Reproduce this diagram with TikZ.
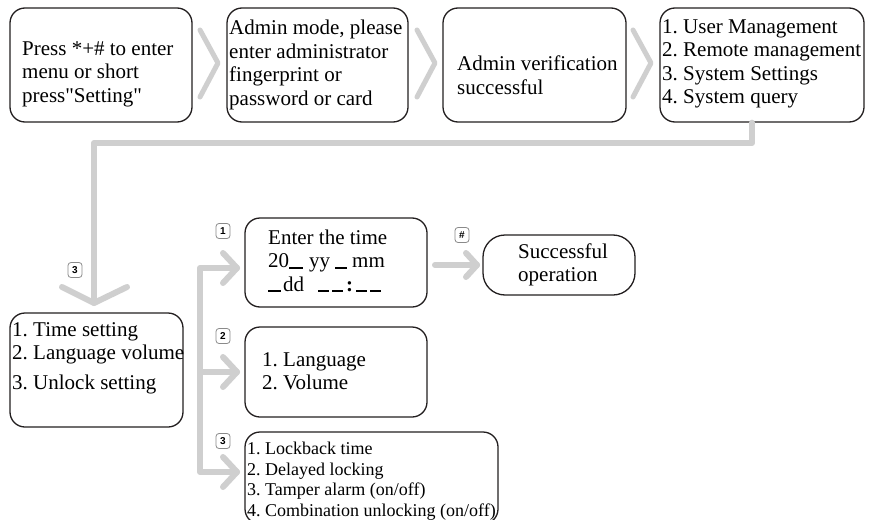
\documentclass[tikz,border=0pt]{standalone}
\usepackage{fontspec}
\setmainfont{Liberation Serif}[Ligatures=TeXOff]
\newfontfamily\lblfont{Liberation Sans}
\newcommand\ubar[1]{\rule[-0.8pt]{#1pt}{1.9pt}}
\definecolor{boxline}{HTML}{231F20}
\definecolor{connc}{HTML}{CFCFCF}
\definecolor{lblline}{HTML}{8A8A8A}
\frenchspacing
\begin{document}
\begin{tikzpicture}[x=1pt,y=-1pt,
  box/.style={draw=boxline,line width=1.3pt,rounded corners=15pt,inner sep=0pt},
  txt/.style={inner sep=0pt,align=left,anchor=west,font=\fontsize{21}{23.5}\selectfont},
  smalltxt/.style={inner sep=0pt,align=left,anchor=west,font=\fontsize{18}{20.5}\selectfont},
  lbl/.style={draw=lblline,line width=0.8pt,rounded corners=3pt,fill=white,minimum width=14pt,minimum height=15pt,inner sep=0pt,font=\lblfont\bfseries\fontsize{10}{10}\selectfont},
  conn/.style={draw=connc,line width=6pt,line cap=round,line join=round},
  chev/.style={draw=connc,line width=5pt,line cap=round,line join=round}]
\useasboundingbox (0,0) rectangle (869,519);
\fill[white] (0,0) rectangle (869,519);
\clip (0,0) rectangle (869,519);

% top row boxes
\node[box,minimum width=182pt,minimum height=114pt] (b1) at (101,65) {};
\node[box,minimum width=181pt,minimum height=114pt] (b2) at (317.5,65) {};
\node[box,minimum width=183pt,minimum height=114pt] (b3) at (534.5,65) {};
\node[box,minimum width=204pt,minimum height=114pt] (b4) at (762,65) {};

\node[txt] (t1) at (22,74) {Press *+\# to enter\\menu or short\\press"Setting"};
\node[txt] (t2) at (229,65) {Admin mode, please\\enter administrator\\fingerprint or\\password or card};
\node[txt] (t3) at (457,75) {Admin verification\\successful};
\node[txt] (t4) at (662,64) {1. User Management\\2. Remote management\\3. System Settings\\4. System query};

% chevrons between top boxes
\coordinate (ch1) at (218,63);
\coordinate (ch2) at (435,63);
\coordinate (ch3) at (651,63);
\foreach \c in {ch1,ch2,ch3}
  \draw[chev] (\c) ++(-18,-33) -- (\c) -- ++(-18,34);

% left box
\node[box,minimum width=173pt,minimum height=114pt] (b5) at (96.5,370) {};
\node[txt] (t5) at (12,358) {1. Time setting\\2. Language volume\\[6pt]3. Unlock setting};

% right boxes
\node[box,minimum width=182pt,minimum height=89pt] (b6) at (336,262.5) {};
\node[txt] (t6) at (268,261) {Enter the time\\
20\ubar{14}\hspace{6pt}yy\hspace{5pt}\ubar{12}\hspace{5pt}mm\\
\ubar{13}\hspace{2pt}dd\hspace{14pt}\ubar{11}\hspace{3pt}\ubar{11}\hspace{3pt}\textbf{:}\hspace{3pt}\ubar{11}\hspace{3pt}\ubar{11}};

\node[box,rounded corners=22pt,minimum width=152pt,minimum height=60pt] (b7) at (559,265) {};
\node[txt] (t7) at (518,265) {Successful\\operation};

\node[box,minimum width=182pt,minimum height=90pt] (b8) at (336,372) {};
\node[txt] (t8) at (262,371) {1. Language\\2. Volume};

\node[box,minimum width=253pt,minimum height=92pt] (b9) at (371.5,478) {};
\node[smalltxt] (t9) at (247,481) {1. Lockback time\\2. Delayed locking\\3. Tamper alarm (on/off)\\4. Combination unlocking (on/off)};

% connector from menu to left box
\coordinate (c1) at (752,143);
\coordinate (c2) at (94,143);
\coordinate (a0) at (94,303);
\draw[conn] (b4.south -| c1) -- (c1) -- (c2) -- (a0);
\draw[conn] (a0) ++(-32,-16) -- (a0) -- ++(33,-16);
\node[lbl] (l0) at (75,270) {3};

% branch
\coordinate (br1) at (200,268);
\coordinate (br2) at (200,372);
\coordinate (br3) at (200,472);
\coordinate (tp1) at (237,268);
\coordinate (tp2) at (237,372);
\coordinate (tp3) at (237,472);
\draw[conn] (tp1) -- (br1) -- (br3) -- (tp3);
\draw[conn] (br2) -- (tp2);
\foreach \c in {tp1,tp2,tp3}
  \draw[conn] (\c) ++(-14,-15) -- (\c) -- ++(-14,15);
\node[lbl] (l1) at (223,231) {1};
\node[lbl] (l2) at (223,336) {2};
\node[lbl] (l3) at (223,441) {3};

% arrow to success
\coordinate (s0) at (435,265);
\coordinate (s1) at (477,265);
\draw[conn] (s0) -- (s1);
\draw[conn] (s1) ++(-11,-12) -- (s1) -- ++(-11,12);
\node[lbl] (lh) at (462,235) {\#};
\end{tikzpicture}
\end{document}
